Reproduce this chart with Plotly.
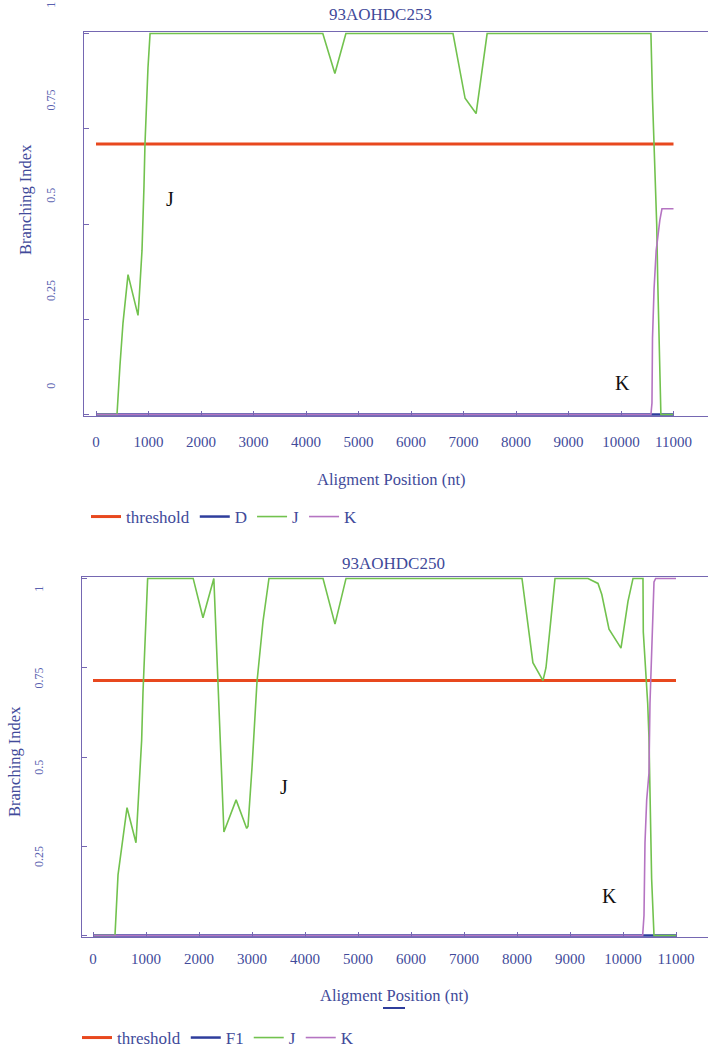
import plotly.graph_objects as go

# ---------------- data ----------------
# Panel 1: 93AOHDC253
thr1_x = [0, 11000]
thr1_y = [0.71, 0.71]
d1_x = [0, 11000]
d1_y = [0, 0]
j1_x = [0, 400, 457, 514, 610, 800, 820, 876, 914, 933, 990, 1030,
        4320, 4550, 4760, 6800, 7030, 7240, 7450,
        10570, 10600, 10630, 10650, 10680, 10700, 10740, 10760, 11000]
j1_y = [0, 0, 0.13, 0.24, 0.367, 0.26, 0.30, 0.43, 0.60, 0.71, 0.91, 1.0,
        1.0, 0.895, 1.0, 1.0, 0.83, 0.79, 1.0,
        1.0, 0.83, 0.72, 0.61, 0.50, 0.35, 0.05, 0, 0]
k1_x = [0, 10570, 10590, 10600, 10630, 10670, 10740, 10780, 11000]
k1_y = [0, 0, 0.03, 0.20, 0.33, 0.43, 0.51, 0.54, 0.54]

# Panel 2: 93AOHDC250
thr2_x = [0, 11000]
thr2_y = [0.714, 0.714]
f1_x = [0, 11000]
f1_y = [0, 0]
j2_x = [0, 415, 472, 566, 642, 811, 850, 887, 918, 943, 981, 1031,
        1890, 2075, 2280, 2470, 2700, 2900, 2925, 3000, 3094, 3208, 3320,
        4340, 4566, 4774, 8094, 8245, 8300, 8490, 8547, 8623, 8717,
        9340, 9528, 9600, 9736, 9962, 10019, 10094, 10189, 10377,
        10383, 10428, 10466, 10490, 10510, 10540, 10585, 11000]
j2_y = [0, 0, 0.17, 0.27, 0.358, 0.26, 0.367, 0.455, 0.547, 0.68, 0.82, 1.0,
        1.0, 0.89, 1.0, 0.29, 0.38, 0.30, 0.306, 0.47, 0.71, 0.88, 1.0,
        1.0, 0.872, 1.0, 1.0, 0.825, 0.764, 0.714, 0.75, 0.86, 1.0,
        1.0, 0.986, 0.955, 0.858, 0.805, 0.858, 0.936, 1.0, 1.0,
        0.85, 0.75, 0.65, 0.555, 0.35, 0.16, 0, 0]
k2_x = [0, 10371, 10396, 10415, 10447, 10490, 10509, 10553, 10585, 10616, 11000]
k2_y = [0, 0, 0.056, 0.26, 0.38, 0.455, 0.65, 0.86, 0.99, 1.0, 1.0]

x_ticks = [0, 1000, 2000, 3000, 4000, 5000, 6000, 7000, 8000, 9000, 10000, 11000]
x_tick_text = [str(v) for v in x_ticks]
y_ticks1 = [0, 0.25, 0.5, 0.75, 1]
y_tick_text1 = ["0", "0.25", "0.5", "0.75", "1"]
y_ticks2 = [0, 0.25, 0.5, 0.75, 1]
y_tick_text2 = ["", "0.25", "0.5", "0.75", "1"]

# ---------------- styling ----------------
W, H = 708, 1051
RED = "#e8481e"
GREEN = "#72c24e"
PURPLE = "#b574c2"
BLUE = "#2e3d9c"
FRAME = "#7567b2"
TXT = "#414a9a"
SERIF = "Liberation Serif, Times New Roman, serif"


def px_x(p):
    return p / W


def px_y(p):
    return 1 - p / H


fig = go.Figure()


def add_panel(xaxis, yaxis, legend, series):
    for name, xs, ys, color, width in series:
        fig.add_trace(go.Scatter(x=xs, y=ys, mode="lines", name=name,
                                 line=dict(color=color, width=width),
                                 xaxis=xaxis, yaxis=yaxis, legend=legend,
                                 hoverinfo="skip"))


add_panel("x", "y", "legend", [
    ("threshold", thr1_x, thr1_y, RED, 3),
    ("D", d1_x, d1_y, BLUE, 2.5),
    ("J", j1_x, j1_y, GREEN, 1.6),
    ("K", k1_x, k1_y, PURPLE, 1.6),
])
add_panel("x2", "y2", "legend2", [
    ("threshold", thr2_x, thr2_y, RED, 3),
    ("F1", f1_x, f1_y, BLUE, 2.5),
    ("J", j2_x, j2_y, GREEN, 1.6),
    ("K", k2_x, k2_y, PURPLE, 1.6),
])

# axis geometry (pixels of the reference)
top1, bot1, left1 = 32, 416, 84
top2, bot2, left2 = 577, 937, 82
# x positions of tick 0 and per-1000 spacing
x0_1, s1 = 96, 52.5
x0_2, s2 = 93, 53.0


def xrange_for(left, x0, s):
    return [(left - x0) / s * 1000, (W - x0) / s * 1000]


xaxis_common = dict(showgrid=False, zeroline=False, showline=True, linecolor=FRAME,
                    linewidth=1, mirror=True, ticks="inside", ticklen=5,
                    tickcolor=FRAME, tickvals=x_ticks, ticktext=x_tick_text,
                    automargin=False, ticklabeloverflow="allow",
                    tickfont=dict(family=SERIF, size=15, color=TXT))
yaxis_common = dict(showgrid=False, zeroline=False, showline=True, linecolor=FRAME,
                    linewidth=1, mirror=False, ticks="inside", ticklen=5,
                    tickcolor=FRAME, tickangle=-90, range=[-0.004, 1.004],
                    automargin=False, ticklabeloverflow="allow",
                    tickfont=dict(family=SERIF, size=12, color="#5a62b0"))

fig.update_layout(
    width=W, height=H, margin=dict(l=0, r=0, t=0, b=0, autoexpand=False),
    paper_bgcolor="white", plot_bgcolor="white",
    xaxis=dict(**xaxis_common, domain=[px_x(left1), 1.0], anchor="y",
               range=xrange_for(left1, x0_1, s1), ticklabelstandoff=12),
    yaxis=dict(**yaxis_common, domain=[px_y(bot1), px_y(top1)], anchor="x",
               tickvals=y_ticks1, ticktext=y_tick_text1,
               ticklabelshift=-27, ticklabelstandoff=23),
    xaxis2=dict(**xaxis_common, domain=[px_x(left2), 1.0], anchor="y2",
                range=xrange_for(left2, x0_2, s2), ticklabelstandoff=8),
    yaxis2=dict(**yaxis_common, domain=[px_y(bot2), px_y(top2)], anchor="x2",
                tickvals=y_ticks2, ticktext=y_tick_text2,
                ticklabelshift=12, ticklabelstandoff=33),
    legend=dict(orientation="h", x=px_x(86), y=px_y(517), xanchor="left",
                yanchor="middle", bgcolor="rgba(0,0,0,0)",
                font=dict(family=SERIF, size=17, color=TXT)),
    legend2=dict(orientation="h", x=px_x(77), y=px_y(1038), xanchor="left",
                 yanchor="middle", bgcolor="rgba(0,0,0,0)",
                 font=dict(family=SERIF, size=17, color=TXT)),
    showlegend=True,
)

annotations = [
    dict(text="93AOHDC253", x=px_x(380), y=px_y(15), font=dict(size=17, color=TXT)),
    dict(text="93AOHDC250", x=px_x(393), y=px_y(563), font=dict(size=17, color=TXT)),
    dict(text="Aligment Position (nt)", x=px_x(391), y=px_y(479), font=dict(size=16.5, color=TXT)),
    dict(text="Aligment Position (nt)", x=px_x(394), y=px_y(995), font=dict(size=16.5, color=TXT)),
    dict(text="Branching Index", x=px_x(25), y=px_y(200), textangle=-90, font=dict(size=16.5, color=TXT)),
    dict(text="Branching Index", x=px_x(14), y=px_y(762), textangle=-90, font=dict(size=16.5, color=TXT)),
    dict(text="J", x=px_x(170), y=px_y(199), font=dict(size=20, color="#111111")),
    dict(text="K", x=px_x(622), y=px_y(383), font=dict(size=20, color="#111111")),
    dict(text="J", x=px_x(284), y=px_y(787), font=dict(size=20, color="#111111")),
    dict(text="K", x=px_x(609), y=px_y(896), font=dict(size=20, color="#111111")),
]
for a in annotations:
    a["font"]["family"] = SERIF
    fig.add_annotation(xref="paper", yref="paper", showarrow=False,
                       xanchor="center", yanchor="middle", **a)

# small stray blue mark under the bottom axis title
fig.add_shape(type="line", xref="paper", yref="paper",
              x0=px_x(383), x1=px_x(405), y0=px_y(1008), y1=px_y(1008),
              line=dict(color=BLUE, width=2))

fig.write_html("out.html",
               config={"displayModeBar": False},
               post_script="document.body.style.margin='0';"
                           "document.body.style.overflow='hidden';")
